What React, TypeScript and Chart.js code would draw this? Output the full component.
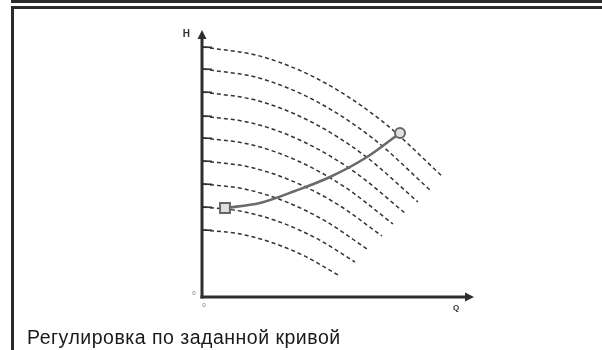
import React, { useEffect, useRef } from "react";
import { Chart, registerables } from "chart.js";

Chart.register(...registerables);

// Pump curves at different speeds (Q, H)
const pumpQ1 = [0, 6, 12, 18, 24];
const pumpH1 = [25.0, 24.01, 21.52, 17.51, 12.0];
const pumpQ2 = [0, 5.68, 11.35, 17.03, 22.7];
const pumpH2 = [22.8, 21.88, 19.56, 15.83, 10.7];
const pumpQ3 = [0, 5.38, 10.75, 16.13, 21.5];
const pumpH3 = [20.5, 19.66, 17.55, 14.16, 9.5];
const pumpQ4 = [0, 5.05, 10.1, 15.15, 20.2];
const pumpH4 = [18.1, 17.36, 15.5, 12.51, 8.4];
const pumpQ5 = [0, 4.75, 9.5, 14.25, 19.0];
const pumpH5 = [15.9, 15.25, 13.6, 10.95, 7.3];
const pumpQ6 = [0, 4.48, 8.95, 13.43, 17.9];
const pumpH6 = [13.6, 13.03, 11.59, 9.28, 6.1];
const pumpQ7 = [0, 4.1, 8.2, 12.3, 16.4];
const pumpH7 = [11.3, 10.81, 9.56, 7.56, 4.8];
const pumpQ8 = [0, 3.8, 7.6, 11.4, 15.2];
const pumpH8 = [9.0, 8.58, 7.53, 5.83, 3.5];
const pumpQ9 = [0, 3.38, 6.75, 10.13, 13.5];
const pumpH9 = [6.7, 6.36, 5.49, 4.11, 2.2];

// Control curve (set curve)
const controlQ = [2.2, 5.7, 9.2, 12.7, 16.4, 19.7];
const controlH = [8.9, 9.4, 10.6, 12.0, 14.0, 16.4];

const xAxisMax = 27.1;
const yAxisMax = 26.7;

const yAxisLabel = "H";
const xAxisLabel = "Q";
const originLabel = "0";
const caption = "Регулировка по заданной кривой";

const pumpQs = [pumpQ1, pumpQ2, pumpQ3, pumpQ4, pumpQ5, pumpQ6, pumpQ7, pumpQ8, pumpQ9];
const pumpHs = [pumpH1, pumpH2, pumpH3, pumpH4, pumpH5, pumpH6, pumpH7, pumpH8, pumpH9];

const AXIS_COLOR = "#2e2e2e";

const axesPlugin = {
  id: "arrowAxes",
  beforeDatasetsDraw(chart: any) {
    const { ctx, chartArea } = chart;
    const { left, right, top, bottom } = chartArea;
    const xs = chart.scales.x;
    const ys = chart.scales.y;
    ctx.save();
    ctx.strokeStyle = AXIS_COLOR;
    ctx.fillStyle = AXIS_COLOR;
    ctx.lineWidth = 3;
    ctx.lineCap = "butt";
    // y axis
    ctx.beginPath();
    ctx.moveTo(left - 1, bottom + 1.5);
    ctx.lineTo(left - 1, top + 6);
    ctx.stroke();
    ctx.beginPath();
    ctx.moveTo(left - 1, top);
    ctx.lineTo(left - 5.5, top + 9);
    ctx.lineTo(left + 3.5, top + 9);
    ctx.closePath();
    ctx.fill();
    // x axis
    ctx.beginPath();
    ctx.moveTo(left - 2.5, bottom);
    ctx.lineTo(right - 6, bottom);
    ctx.stroke();
    ctx.beginPath();
    ctx.moveTo(right, bottom);
    ctx.lineTo(right - 9, bottom - 4.5);
    ctx.lineTo(right - 9, bottom + 4.5);
    ctx.closePath();
    ctx.fill();
    // small solid lead-in segments of the pump curves at the H axis
    ctx.lineWidth = 1.7;
    ctx.strokeStyle = "#333";
    pumpHs.forEach((hs, i) => {
      const y = ys.getPixelForValue(hs[0]);
      const x0 = xs.getPixelForValue(pumpQs[i][0]);
      ctx.beginPath();
      ctx.moveTo(x0, y);
      ctx.lineTo(x0 + 9, y + 0.3);
      ctx.stroke();
    });
    // labels
    ctx.fillStyle = "#333";
    ctx.font = "bold 10px 'Liberation Sans', Arial, sans-serif";
    ctx.textBaseline = "middle";
    ctx.textAlign = "right";
    ctx.fillText(yAxisLabel, left - 13, top + 4);
    ctx.font = "bold 8px 'Liberation Sans', Arial, sans-serif";
    ctx.textAlign = "center";
    ctx.fillText(xAxisLabel, right - 18, bottom + 11);
    ctx.font = "6px 'Liberation Sans', Arial, sans-serif";
    ctx.fillStyle = "#777";
    ctx.fillText(originLabel, left - 9, bottom - 4);
    ctx.fillText(originLabel, left + 1, bottom + 8);
    ctx.restore();
  },
};

export default function App() {
  const canvasRef = useRef<HTMLCanvasElement | null>(null);

  useEffect(() => {
    if (!canvasRef.current) return;
    const controlPointStyle = controlQ.map((_, i) => (i === 0 ? "rect" : "circle"));
    const controlPointRadius = controlQ.map((_, i) =>
      i === 0 ? 7 : i === controlQ.length - 1 ? 5 : 0
    );
    const datasets: any[] = [
      {
        label: "control",
        data: controlQ.map((q, i) => ({ x: q, y: controlH[i] })),
        borderColor: "#6a6a6a",
        borderWidth: 2.6,
        cubicInterpolationMode: "monotone",
        pointStyle: controlPointStyle,
        pointRadius: controlPointRadius,
        pointBorderColor: "#666",
        pointBorderWidth: 2,
        pointBackgroundColor: "#e0e0e0",
        clip: false,
      },
      ...pumpQs.map((qs, idx) => ({
        label: "n" + (idx + 1),
        data: qs.map((q, i) => ({ x: q, y: pumpHs[idx][i] })),
        borderColor: "#333",
        borderWidth: 1.5,
        borderDash: [4, 3],
        cubicInterpolationMode: "monotone",
        pointRadius: 0,
        clip: false,
      })),
    ];
    const chart = new Chart(canvasRef.current, {
      type: "line",
      data: { datasets },
      options: {
        animation: false,
        responsive: false,
        devicePixelRatio: 1,
        layout: { padding: { left: 203, right: 128, top: 30, bottom: 53 } },
        plugins: { legend: { display: false }, tooltip: { enabled: false } },
        events: [],
        scales: {
          x: { type: "linear", min: 0, max: xAxisMax, display: false },
          y: { type: "linear", min: 0, max: yAxisMax, display: false },
        },
      },
      plugins: [axesPlugin],
    });
    return () => chart.destroy();
  }, []);

  return (
    <div
      style={{
        position: "absolute",
        left: 0,
        top: 0,
        width: 602,
        height: 350,
        background: "#fff",
        overflow: "hidden",
      }}
    >
      <div style={{ position: "absolute", left: 11, top: 0, right: 0, height: 3, background: "#2b2b2b" }} />
      <div style={{ position: "absolute", left: 11, top: 6, right: 0, height: 3, background: "#2b2b2b" }} />
      <div style={{ position: "absolute", left: 11, top: 6, width: 3, bottom: 0, background: "#2b2b2b" }} />
      <canvas
        ref={canvasRef}
        width={602}
        height={350}
        style={{ position: "absolute", left: 0, top: 0, width: 602, height: 350 }}
      />
      <div
        style={{
          position: "absolute",
          left: 27,
          top: 327,
          fontFamily: "'Liberation Sans', Arial, sans-serif",
          fontSize: 19.5,
          letterSpacing: 0.5,
          color: "#1a1a1a",
          whiteSpace: "nowrap",
          lineHeight: "20px",
        }}
      >
        {caption}
      </div>
    </div>
  );
}
